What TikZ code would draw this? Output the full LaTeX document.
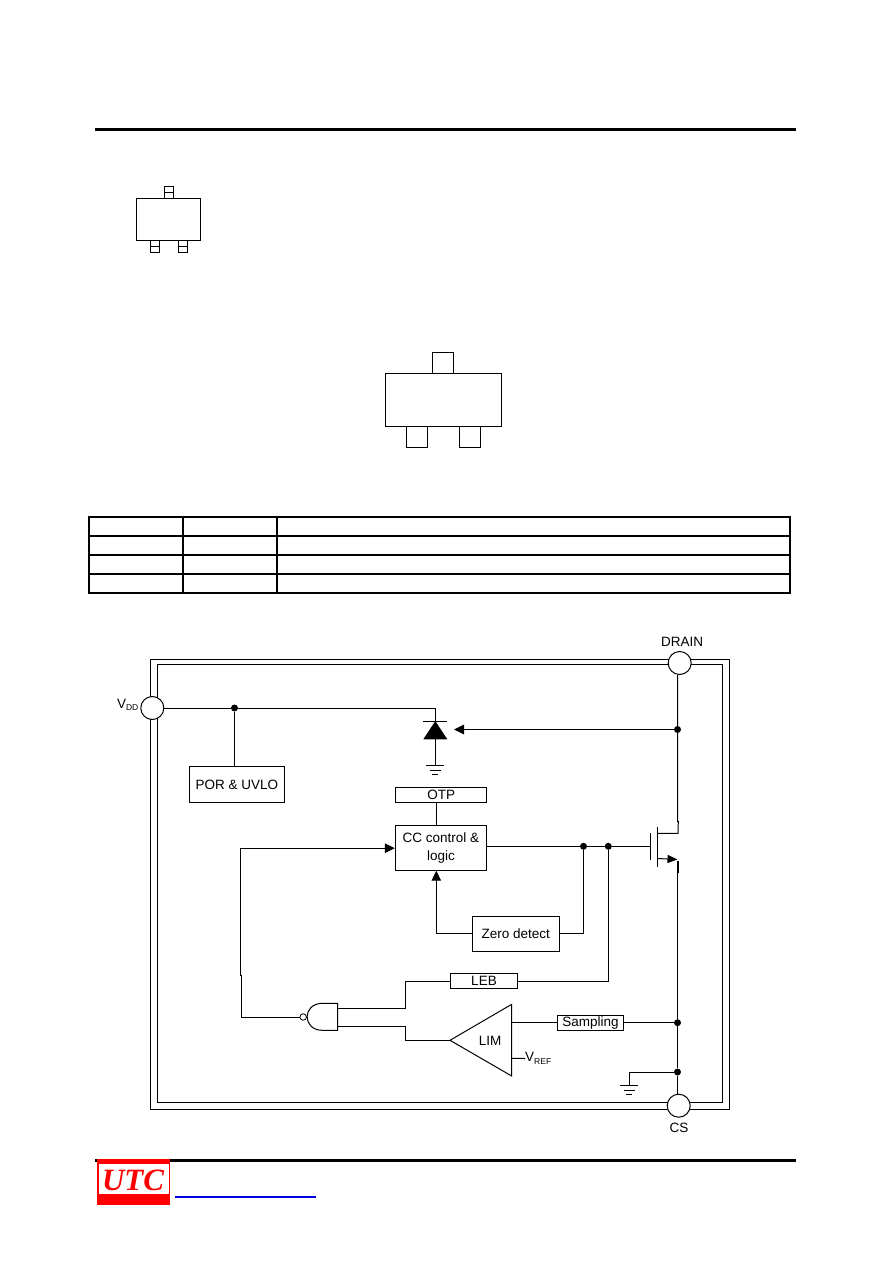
\documentclass[tikz,border=0pt]{standalone}
\usepackage{fontspec}
\setmainfont{Liberation Sans}
\newfontfamily\logofont{Liberation Serif}
\usetikzlibrary{
  arrows.meta,
  shapes.geometric,
  positioning,
  calc
}
\definecolor{utcRed}{HTML}{FF0000}
\definecolor{utcBlue}{HTML}{0000E0}
\newcommand{\subtext}[1]{{\fontsize{8.5}{9}\selectfont\raisebox{-2.5pt}{#1}}}
\tikzset{
  blockbox/.style={draw, line width=1pt, fill=white, inner sep=0pt, align=center, font=\fontsize{13.5}{18}\selectfont},
  padnode/.style={draw, circle, line width=1pt, fill=white, minimum size=23pt, inner sep=0pt},
  dotnode/.style={circle, fill=black, minimum size=7pt, inner sep=0pt},
  labelnode/.style={inner sep=0pt, font=\fontsize{13.5}{15}\selectfont},
  wire/.style={line width=1pt},
  outline/.style={line width=1pt},
  arrowwire/.style={wire, -{Triangle[length=10pt,width=9.5pt]}},
  gndsym/.pic={
    \draw[wire] (-9,0) -- (9,0);
    \draw[wire] (-5.5,5) -- (5.5,5);
    \draw[wire] (-3,9.5) -- (3,9.5);
  }
}
\begin{document}
\begin{tikzpicture}[x=1pt,y=-1pt]
  \useasboundingbox (0,0) rectangle (892,1263);
  % header and footer
  \draw[line width=3pt] (95,129.5) -- (796,129.5);
  \draw[line width=3pt] (95,1160.5) -- (796,1160.5);
  \fill[utcRed] (97,1159) rectangle (170,1205);
  \fill[white] (98.5,1163.5) rectangle (169,1194);
  \node[inner sep=0pt, text=utcRed, font=\logofont\bfseries\itshape\fontsize{31}{31}\selectfont] (logo) at (133,1180.5) {UTC};
  \draw[utcBlue, line width=1.7pt] (175,1197) -- (316,1197);
  % small package
  \draw[outline] (136.4,198.3) rectangle (200.4,240.3);
  \draw[outline] (164.4,186.4) rectangle (173.4,198.3);
  \draw[outline] (164.4,192.3) -- (173.4,192.3);
  \foreach \px in {150.4,178.4}{
    \draw[outline] (\px,240.3) rectangle ({\px+9},252.6);
    \draw[outline] (\px,246.4) -- ({\px+9},246.4);
  }
  % large package
  \draw[outline] (385.4,373.4) rectangle (501.6,426.4);
  \draw[outline] (432.4,352.4) rectangle (453.6,373.4);
  \draw[outline] (406.4,426.4) rectangle (427.4,447.4);
  \draw[outline] (459.6,426.4) rectangle (480.6,447.4);
  % pin table
  \draw[line width=2pt] (89.3,516.8) rectangle (790,592.8);
  \foreach \ry in {535.8,554.8,573.8}{
    \draw[line width=2pt] (89.3,\ry) -- (790,\ry);
  }
  \foreach \cx in {183,277}{
    \draw[line width=2pt] (\cx,516.8) -- (\cx,592.8);
  }
  % die frame
  \draw[wire] (150.7,659.7) rectangle (729.3,1109.3);
  \draw[wire] (157.7,664.5) rectangle (722.3,1102.3);
  \node[padnode] (vdd) at (152.3,708) {};
  \node[padnode] (drain) at (679.7,663) {};
  \node[padnode] (cs) at (678.7,1105.7) {};
  \node[labelnode, anchor=east] (vddlabel) at (138.5,705) {V\subtext{DD}};
  \node[labelnode] (drainlabel) at (682,642) {DRAIN};
  \node[labelnode] (cslabel) at (679,1128) {CS};
  % blocks
  \node[blockbox, minimum width=95pt, minimum height=36.4pt] (por) at (236.8,784.5) {POR \& UVLO};
  \node[blockbox, minimum width=90.7pt, minimum height=15.4pt] (otp) at (441.3,795) {OTP};
  \node[blockbox, minimum width=91.4pt, minimum height=45pt] (cc) at (441,848.2) {CC control \&\\logic};
  \node[blockbox, minimum width=86.7pt, minimum height=35pt] (zero) at (515.7,933.8) {Zero detect};
  \node[blockbox, minimum width=66.6pt, minimum height=15.4pt] (leb) at (484,981) {LEB};
  \node[blockbox, minimum width=66.4pt, minimum height=15.3pt] (samp) at (590.5,1022.7) {Sampling};
  % junctions
  \node[dotnode] (dotvdd) at (234.5,708) {};
  \node[dotnode] (dotdrain) at (677.5,729.5) {};
  \node[dotnode] (dotzero) at (583.5,846.3) {};
  \node[dotnode] (dotleb) at (608.3,846.3) {};
  \node[dotnode] (dotsamp) at (677.5,1022.7) {};
  \node[dotnode] (dotgnd) at (677.5,1072) {};
  % diode
  \coordinate (diodek) at (435.3,721);
  \coordinate (diodea) at (435.3,739.3);
  \coordinate (diodein) at (454,729.5);
  \coordinate (gndtop) at (435.3,765);
  \coordinate (gndcs) at (629.3,1085.3);
  \coordinate (ccbot) at (436.3,870.7);
  \draw[wire] (423.3,721) -- (447,721);
  \fill (diodek) -- (423.3,739.3) -- (447.3,739.3) -- cycle;
  \draw[wire] (vdd) -- (dotvdd) -- (vdd -| diodek) -- (diodek);
  \draw[wire] (dotvdd) -- (dotvdd |- por.north);
  \draw[wire] (diodea) -- (gndtop);
  \pic at (gndtop) {gndsym};
  \draw[arrowwire] (dotdrain) -- (diodein);
  \draw[wire] (otp.south -| ccbot) -- (cc.north -| ccbot);
  \draw[arrowwire] (zero.west) -| (ccbot);
  \draw[wire] (zero.east) -| (dotzero);
  \draw[wire] (cc.east |- dotzero) -- (dotzero) -- (dotleb) -- (650.3,846.3);
  % mosfet
  \coordinate (mosd) at (678,833.3);
  \coordinate (moss) at (677.5,859.5);
  \draw[wire] (drain.south -| dotdrain) -- (dotdrain) -- (677.5,821.7) -- (678.3,821.7) -- (mosd) -- (657.7,833.3);
  \draw[wire] (650.3,833) -- (650.3,860);
  \draw[wire] (657.7,826.7) -- (657.7,866.7);
  \draw[wire, -{Triangle[length=10pt,width=8pt]}] (657.7,858.5) -- (moss);
  \draw[line width=2pt] (678,860.5) -- (678,873);
  \draw[wire] (677.5,873) -- (dotsamp) -- (dotgnd) -- (cs.north -| dotgnd);
  \draw[wire] (dotgnd) -| (gndcs);
  \pic at (gndcs) {gndsym};
  % nand and comparator
  \coordinate (nanda) at (337.7,1008.3);
  \coordinate (nandb) at (337.7,1026.3);
  \coordinate (limtip) at (450,1040.3);
  \coordinate (limtop) at (511.7,1004.3);
  \coordinate (limbot) at (511.7,1076);
  \draw[wire] (322.5,1003.3) -- (337.7,1003.3) -- (337.7,1030.3) -- (322.5,1030.3) .. controls (302,1030.3) and (302,1003.3) .. (322.5,1003.3);
  \node[draw, circle, line width=0.8pt, fill=white, minimum size=6.5pt, inner sep=0pt] (bubble) at (303.2,1017) {};
  \draw[wire] (limtip) -- (limtop) -- (limbot) -- cycle;
  \node[labelnode] (lim) at (490,1041) {LIM};
  \node[labelnode, anchor=west] (vref) at (525,1058.5) {V\subtext{REF}};
  \draw[wire] (nanda) -- (405.3,1008.3) |- (leb.west);
  \draw[wire] (nandb) -- (405.3,1026.3) |- (limtip);
  \draw[wire] (leb.east) -| (dotleb);
  \draw[wire] (511.7,1022.7) -- (samp.west);
  \draw[wire] (samp.east) -- (dotsamp);
  \draw[wire] (511.7,1058.3) -- (vref.west);
  \draw[arrowwire] (bubble.west) -- (241.3,1017) -- (241.3,975) -- (240.7,975) |- (cc.west);
\end{tikzpicture}
\end{document}
